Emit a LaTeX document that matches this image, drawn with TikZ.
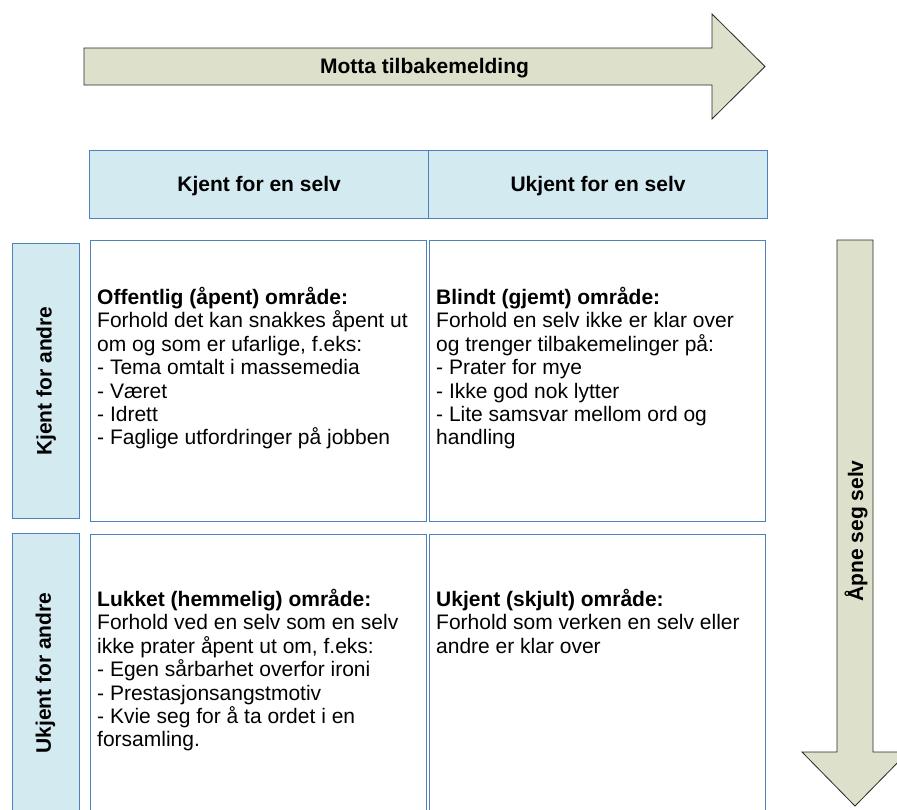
\documentclass[tikz,border=0pt]{standalone}
\usepackage{fontspec}
\setmainfont{Liberation Sans}
\definecolor{frameblue}{RGB}{79,129,189}
\definecolor{headfill}{RGB}{210,234,240}
\definecolor{arrowfill}{RGB}{221,224,203}
\definecolor{arrowline}{RGB}{40,40,40}
\begin{document}
\begin{tikzpicture}[x=1pt,y=-1pt,
  cellframe/.style={draw=frameblue, line width=1.2pt, fill=white, inner sep=0pt, anchor=north west},
  headbox/.style={cellframe, fill=headfill, font=\bfseries\fontsize{21}{25}\selectfont, text depth=2pt},
  sidebox/.style={cellframe, fill=headfill},
  celltext/.style={anchor=north west, inner sep=0pt, align=left, font=\fontsize{21}{23.4}\selectfont},
  sidetext/.style={rotate=90, inner sep=0pt, font=\bfseries\fontsize{21}{25}\selectfont},
  bigarrow/.style={draw=arrowline, line width=0.8pt, fill=arrowfill, line join=miter},
  arrowtext/.style={inner sep=0pt, font=\bfseries\fontsize{21}{25}\selectfont}
]
\useasboundingbox (0,0) rectangle (897,809);

% feedback arrow across the top
\draw[bigarrow] (84,48) -- (712,48) -- (712,14) -- (765,66.5) -- (712,119) -- (712,85) -- (84,85) -- cycle;
\node[arrowtext] (feedback) at (424.5,68.5) {Motta tilbakemelding};

% self-disclosure arrow down the right side
\draw[bigarrow] (837,240) -- (873,240) -- (873,752) -- (908,752) -- (855,806) -- (802,752) -- (837,752) -- cycle;
\node[arrowtext, rotate=90] (disclose) at (856,531) {Åpne seg selv};

% column headers
\node[headbox, minimum width=339, minimum height=68] (hknown) at (89,150) {Kjent for en selv};
\node[headbox, minimum width=339, minimum height=68] (hunknown) at (428,150) {Ukjent for en selv};

% row headers
\node[sidebox, minimum width=67, minimum height=275] (rknown) at (12,243) {};
\node[sidetext] (rknowntext) at (rknown.center) {Kjent for andre};
\node[sidebox, minimum width=67, minimum height=285] (runknown) at (12,533) {};
\node[sidetext] (runknowntext) at (45.5,673) {Ukjent for andre};

% the four windows
\node[cellframe, minimum width=336, minimum height=281] (open) at (90,240) {};
\node[cellframe, minimum width=336, minimum height=281] (blind) at (429,240) {};
\node[cellframe, minimum width=336, minimum height=285] (hidden) at (90,534) {};
\node[cellframe, minimum width=336, minimum height=285] (unknown) at (429,534) {};

\node[celltext] (opentext) at (97,287) {\textbf{Offentlig (åpent) område:}\\
Forhold det kan snakkes åpent ut\\
om og som er ufarlige, f.eks:\\
- Tema omtalt i massemedia\\
- Været\\
- Idrett\\
- Faglige utfordringer på jobben};

\node[celltext] (blindtext) at (436,287) {\textbf{Blindt (gjemt) område:}\\
Forhold en selv ikke er klar over\\
og trenger tilbakemelinger på:\\
- Prater for mye\\
- Ikke god nok lytter\\
- Lite samsvar mellom ord og\\
handling};

\node[celltext] (hiddentext) at (97,589) {\textbf{Lukket (hemmelig) område:}\\
Forhold ved en selv som en selv\\
ikke prater åpent ut om, f.eks:\\
- Egen sårbarhet overfor ironi\\
- Prestasjonsangstmotiv\\
- Kvie seg for å ta ordet i en\\
forsamling.};

\node[celltext] (unknowntext) at (436,589) {\textbf{Ukjent (skjult) område:}\\
Forhold som verken en selv eller\\
andre er klar over};
\end{tikzpicture}
\end{document}
